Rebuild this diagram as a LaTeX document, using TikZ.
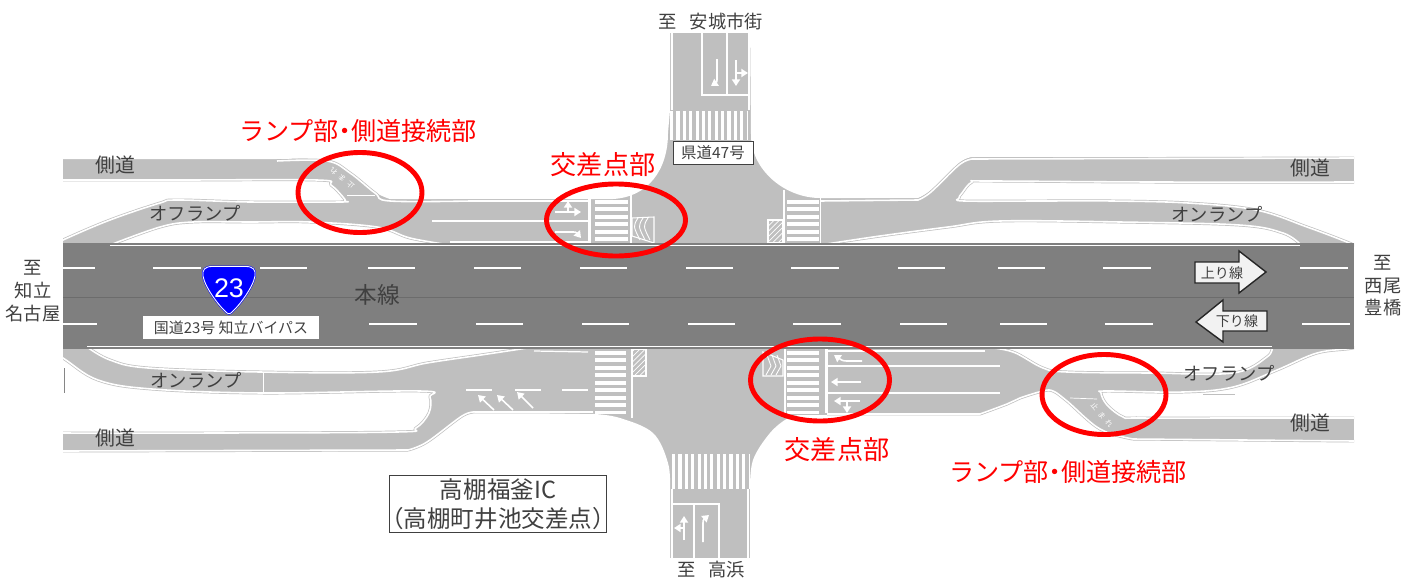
\documentclass[tikz,border=0pt]{standalone}
\usepackage{fontspec}
\setmainfont{Noto Sans CJK JP}
\newfontfamily\latinfont{Liberation Sans}
\usetikzlibrary{arrows.meta,patterns}
\definecolor{roadgray}{HTML}{BFBFBF}
\definecolor{mainroad}{HTML}{7F7F7F}
\definecolor{midline}{HTML}{6C6C6C}
\definecolor{labelgray}{HTML}{404040}
\definecolor{arrowfill}{HTML}{F2F2F2}

\begin{document}
\begin{tikzpicture}[
x=0.02cm, y=-0.02cm,
soft/.style={smooth, tension=0.6},
island/.style={fill=white, draw=roadgray, double=white, double distance=0.9pt, line width=0.4pt, line join=round},
roadedge/.style={draw=roadgray, double=white, double distance=0.9pt, line width=0.4pt},
paint/.style={white, line width=0.7pt},
stopbar/.style={white, line width=1.7pt},
zebrah/.style={white, line width=#1, dash pattern=on 2.15pt off 2.1pt},
zebrav/.style={white, line width=#1, dash pattern=on 1.8pt off 1.83pt},
lanearrow/.style={white, line width=0.9pt, -{Triangle[length=3.8pt, width=4.6pt]}},
hatchbox/.style={draw=white, line width=0.6pt, pattern=north east lines, pattern color=white},
ring/.style={draw=red, line width=2.8pt},
dirarrow/.style={draw=black!85, fill=arrowfill, line width=0.8pt},
lbl/.style={font=\fontsize{#1}{#1}\selectfont, text=labelgray, inner sep=0pt},
redlbl/.style={font=\fontsize{#1}{#1}\selectfont, text=red, inner sep=0pt},
stoptxt/.style={font=\fontsize{4.2pt}{4.2pt}\selectfont, text=white, inner sep=0pt},
laneline/.style={white, line width=0.7pt}
]
\useasboundingbox (0,0) rectangle (1416,578);

\begin{scope}
\clip (63,33) rectangle (1354,558);
%Roads
\fill[roadgray] (63,33) rectangle (1354,558);
%White ground, north side
\fill[white] (40,20) -- (40,159) -- (280,159) -- plot[soft] coordinates {(280,159)(327,160)(350,172)(375,192)(390,199)} -- (613,199) .. controls (648,197) and (668,170) .. (668,133) -- (670,110) -- (670,20) -- cycle;
\fill[white] (1380,20) -- (750,20) -- (751,135) .. controls (751,170) and (785,198) .. (820,198) -- (918,198) -- plot[soft] coordinates {(918,198)(931,190)(959,163)(972,157)} -- (1380,157) -- cycle;
\path[island] plot[soft] coordinates {(40,180)(180,180)(317,180)(331,185)(343,197)(345,201)(340,202)(250,202)(177,200)(160,203)(110,220)(63,240)(40,252)} -- cycle;
\path[island] plot[soft] coordinates {(110,245)(160,227)(193,222)(250,222)(310,222)(377,227)(410,238)(450,245)} -- cycle;
\path[island] plot[soft] coordinates {(1380,182)(1153,182)(989,181)(972,182)(962,193)(959,198)(964,201)(1040,201)(1112,201)(1188,203)(1256,210)(1307,227)(1354,245)(1380,258)} -- cycle;
\path[island] plot[soft] coordinates {(1301,245)(1283,233)(1239,225)(1120,222)(1000,221)(948,227)(880,236)(820,245)} -- cycle;
%White ground, south side
\path[island] plot[soft] coordinates {(87,347)(110,360)(148,368)(260,372)(378,372)(427,363)(481,355)(534,347)} -- cycle;
\path[island] plot[soft] coordinates {(40,345)(63,358)(98,380)(152,389)(263,393)(420,391)(430,397)(429,413)(416,428)(397,432)(220,433)(40,433)} -- cycle;
\fill[white] (40,451) -- (408,451) -- plot[soft] coordinates {(408,451)(427,443)(462,417)(475,412)} -- (595,414) -- plot[soft] coordinates {(595,414)(620,418)(653,433)(668,463)(670,489)} -- (670,570) -- (40,570) -- cycle;
\fill[white] (750,570) -- (750,489) -- plot[soft] coordinates {(750,489)(753,460)(770,433)(788,418)(800,415)} -- (980,415) -- plot[soft] coordinates {(980,415)(1007,405)(1020,399)(1043,392)(1053,392)(1067,402)(1100,430)(1133,440)} -- (1380,441) -- (1380,570) -- cycle;
\path[island] plot[soft] coordinates {(985,347)(1013,352)(1043,368)(1067,372)(1150,373)(1233,373)(1267,357)(1272,347)} -- cycle;
\path[island] plot[soft] coordinates {(1380,340)(1353,348)(1317,353)(1277,370)(1233,387)(1183,392)(1107,391)(1101,393)(1107,405)(1123,417)(1140,418)(1250,418)(1380,418)} -- cycle;
%Edge lines
\draw[roadedge] plot[soft] coordinates {(277,161)(327,161)(350,173)(375,193)(390,201)(470,201)} -- (590,201);
\draw[roadedge] (820,201) -- (918,200) -- plot[soft] coordinates {(918,200)(931,192)(959,165)(972,159)} -- (1354,158);
\draw[roadedge] (63,451) -- (408,450) -- plot[soft] coordinates {(408,450)(427,442)(462,416)(475,412)} -- (593,412);
\draw[roadedge] (827,414) -- (980,414) -- plot[soft] coordinates {(980,414)(1007,404)(1020,398)(1043,391)(1053,391)(1067,401)(1100,429)(1133,439)} -- (1354,441);
\draw[laneline] (534,351) -- (588,352);
\draw[laneline] (827,351) -- (985,351);
\draw[laneline] (450,242) -- (589,242);
\draw[laneline] (432,221) -- (589,221);
\draw[laneline] (827,366) -- (1000,366);
\draw[laneline] (827,393) -- (1000,393);
\draw[laneline] (466,390) -- (492,390);
\draw[laneline] (515,390) -- (541,390);
\draw[laneline] (562,390) -- (588,390);
\draw[white, line width=0.4pt] (263,372) -- (263,393);
\draw[white, line width=0.4pt] (347,195) -- (375,195);
\draw[white, line width=0.4pt] (1070,398) -- (1097,399);
\draw[white, line width=0.4pt] (820,198) -- (820,243);
\draw[roadgray!70!black, line width=0.3pt] (64,368) -- (64,393);
\draw[roadgray, line width=0.4pt] (1203,394) -- (1235,394);
%North arm
\draw[paint] (672,33) -- (672,110);
\draw[paint] (749,33) -- (749,110);
\draw[paint, line width=1.1pt] (702,33) -- (702,95) -- (749,95);
\draw[paint, line width=1.1pt] (727,33) -- (727,95);
\draw[zebrav=16.4pt] (670,125.5) -- (747,125.5);
\draw[lanearrow] (717,59) -- (717,76) .. controls (717,82) .. (711,86);
\draw[lanearrow] (736,60) -- (736,86);
\draw[lanearrow] (736,73) -- (748,73);
%South arm
\draw[paint] (672,489) -- (672,558);
\draw[paint] (748,489) -- (748,558);
\draw[paint, line width=1.1pt] (672,504) -- (719,504) -- (719,558);
\draw[paint, line width=1.1pt] (694,504) -- (694,558);
\draw[zebrav=19.8pt] (672,471.5) -- (750,471.5);
\draw[lanearrow] (684,540) -- (684,516);
\draw[lanearrow] (684,528) -- (674,528);
\draw[lanearrow] (703,542) -- (703,526) .. controls (703,520) .. (709,515);
%West crossing, north side
\draw[stopbar] (589,199) -- (589,243);
\draw[zebrah=18.7pt] (611.5,200) -- (611.5,243);
\draw[paint] (631,194) -- (631,243);
\draw[lanearrow] (555,212) -- (581,212);
\draw[lanearrow] (568,212) -- (568,201);
\draw[lanearrow] (555,232) -- (570,232) .. controls (576,232) .. (581,238);
\draw[paint, line width=0.6pt] (632,218) -- (654,217) -- (654,243) -- (632,236) -- cycle;
\foreach \hx in {638,643,648}
  \draw[white, line width=0.5pt] (\hx,218) .. controls (\hx-5,226) .. (\hx+2,240);
%East crossing, north side
\draw[paint] (784,190) -- (784,243);
\draw[zebrah=18.1pt] (803,200) -- (803,243);
\path[hatchbox] (768,220) rectangle (783,243);
%West crossing, south side
\draw[paint] (632,349) -- (632,418);
\draw[zebrah=17.6pt] (610.5,351) -- (610.5,414);
\path[hatchbox] (632,349) -- (646,349) -- (646,376) -- (632,376) -- cycle;
\draw[lanearrow] (494,410) -- (478,395);
\draw[lanearrow] (513,410) -- (497,395);
\draw[lanearrow] (533,408) -- (517,392);
%East crossing, south side
\draw[paint] (785,349) -- (785,413);
\draw[zebrah=18.1pt] (803,351) -- (803,414);
\draw[stopbar] (826,349) -- (826,413);
\draw[paint, line width=0.6pt] (763,352) -- (783,360) -- (783,376) -- (763,376) -- cycle;
\foreach \hx in {767,772,777}
  \draw[white, line width=0.5pt] (\hx-1,375) -- (\hx+4,366) -- (\hx,355);
\draw[lanearrow] (862,361) -- (850,361) .. controls (843,361) .. (834,355);
\draw[lanearrow] (861,382) -- (831,382);
\draw[lanearrow] (860,401) -- (834,401);
\draw[lanearrow] (847,401) -- (847,413);
%Main line
\fill[mainroad] (63,243) rectangle (1354,349);
\draw[midline, line width=0.5pt] (63,297) -- (1354,297);
\draw[laneline, line width=0.9pt] (110,245.5) -- (1300,245.5);
\draw[laneline, line width=0.9pt] (87,346.5) -- (1272,346.5);
\foreach \xa/\xb in {63/95,153/201,260/307,368/415,474/521,580/627,686/733,791/839,898/945,998/1045,1103/1151,1300/1348}
  \draw[laneline] (\xa,268) -- (\xb,268);
\foreach \xa/\xb in {63/97,155/203,262/309,369/417,476/523,582/629,688/735,793/841,900/947,1000/1047,1105/1153,1302/1350}
  \draw[laneline] (\xa,324) -- (\xb,324);
\end{scope}

%Direction arrows
\path[dirarrow] (1195,262) -- (1239,262) -- (1239,251) -- (1266,272) -- (1239,293) -- (1239,283) -- (1195,283) -- cycle;
\path[dirarrow] (1267,311) -- (1223,311) -- (1223,300) -- (1196,322) -- (1223,342) -- (1223,331) -- (1267,331) -- cycle;
%Route shield
\path[fill=blue, draw=blue, double=white, double distance=0.5pt, line width=0.3pt] (212,266.5) -- (246,266.5) .. controls (253,266.5) and (256,270) .. (255,276) .. controls (253,287) and (240,305) .. (231,313) .. controls (230,314) and (228,314) .. (227,313) .. controls (218,305) and (205,287) .. (203,276) .. controls (202,270) and (205,266.5) .. (212,266.5) -- cycle;
%Nodes
\node[inner sep=0pt, text=white, font=\latinfont\fontsize{15.3pt}{15.3pt}\selectfont] (shield) at (229,288) {23};
\node[lbl=8.5pt, fill=white, minimum width=176*0.567pt, minimum height=23*0.567pt] (route) at (231,327.5) {国道23号 知立バイパス};
\node[lbl=8.8pt, fill=white, draw=labelgray, line width=0.4pt, minimum width=80*0.567pt, minimum height=23*0.567pt] (pref) at (713,152.5) {県道47号};
\node[lbl=10.4pt] (northto) at (711,22) {至\hspace{0.7em}安城市街};
\node[lbl=10.4pt] (southto) at (711,570) {至\hspace{0.7em}高浜};
\node[lbl=10.4pt, align=center, font=\fontsize{10.4pt}{13pt}\selectfont] (westto) at (33,291) {至\\知立\\名古屋};
\node[lbl=10.4pt, align=center, font=\fontsize{10.4pt}{12.8pt}\selectfont] (eastto) at (1383,286) {至\\西尾\\豊橋};
\node[lbl=11.3pt] (sideNW) at (115,165) {側道};
\node[lbl=11.3pt] (sideNE) at (1310,168) {側道};
\node[lbl=11.3pt] (sideSW) at (115,438) {側道};
\node[lbl=11.3pt] (sideSE) at (1310,423) {側道};
\node[lbl=10.4pt] (offNW) at (195,213) {オフランプ};
\node[lbl=10.4pt] (onNE) at (1217,214) {オンランプ};
\node[lbl=10.4pt] (onSW) at (196,380) {オンランプ};
\node[lbl=10.4pt] (offSE) at (1229,373) {オフランプ};
\node[lbl=12.9pt] (mainlbl) at (377,295) {本線};
\node[lbl=8pt] (uplbl) at (1222,273) {上り線};
\node[lbl=8pt] (downlbl) at (1237,321) {下り線};
\node[stoptxt, rotate=140] (stopNW) at (342,178) {止\hspace{0.5em}ま\hspace{0.5em}れ};
\node[stoptxt, rotate=-50] (stopSE) at (1102,415) {止\hspace{0.5em}ま\hspace{0.5em}れ};
\node[lbl=13.4pt, align=center, font=\fontsize{13.4pt}{16.4pt}\selectfont, draw=labelgray, line width=0.5pt, fill=white, minimum width=218*0.567pt, minimum height=58*0.567pt] (icname) at (498,504) {高棚福釜IC\\\kern-0.5em（高棚町井池交差点）\kern-0.5em};
%Red rings
\draw[ring] (360,192.5) ellipse [x radius=62, y radius=40];
\draw[ring] (616,220) ellipse [x radius=69.5, y radius=36];
\draw[ring] (820,380) ellipse [x radius=69.5, y radius=41];
\draw[ring] (1104,394.5) ellipse [x radius=62, y radius=40];
\node[redlbl=14.3pt] (rampNW) at (358,131) {ランプ部\kern-0.25em・\kern-0.25em 側道接続部};
\node[redlbl=14.9pt] (crossNW) at (603,165) {交差点部};
\node[redlbl=14.9pt] (crossSE) at (837,450) {交差点部};
\node[redlbl=14.3pt] (rampSE) at (1068,472) {ランプ部\kern-0.25em・\kern-0.25em 側道接続部};
\end{tikzpicture}
\end{document}
